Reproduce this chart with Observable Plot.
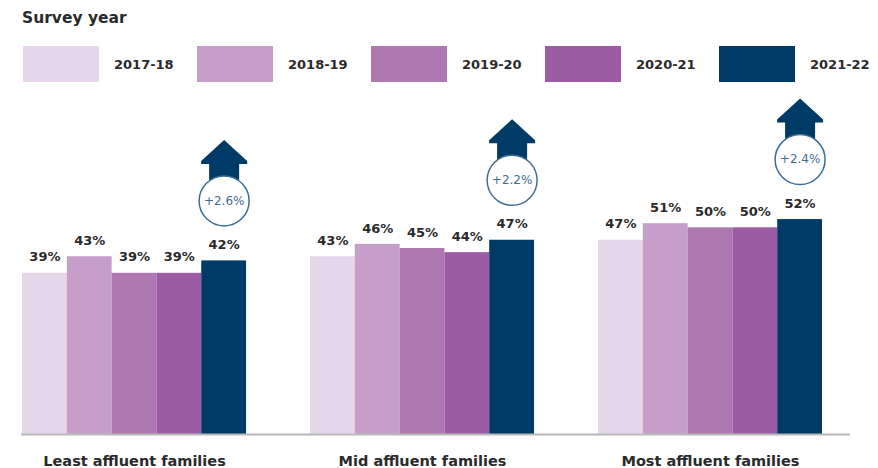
<!DOCTYPE html>
<html>
<head>
<meta charset="utf-8">
<script src="https://cdn.jsdelivr.net/npm/d3@7"></script>
<script src="https://cdn.jsdelivr.net/npm/@observablehq/plot@0.6"></script>
<style>
  html, body { margin: 0; padding: 0; background: #fff; }
  body { width: 878px; height: 468px; overflow: hidden; font-family: "DejaVu Sans", sans-serif; color: #2a2a2a; }
  #legend { position: relative; height: 90px; }
  #legend .title { position: absolute; left: 22px; top: 8px; font-size: 15.5px; font-weight: 700; line-height: 20px; }
  #legend .items { position: absolute; left: 23px; top: 46px; display: flex; }
  #legend .item { width: 174px; display: flex; align-items: center; height: 36px; }
  #legend .sw { width: 76px; height: 36px; margin-right: 15px; }
  #legend .lab { font-size: 13px; font-weight: 700; }
  #chart svg { display: block; }
</style>
</head>
<body>
<div id="legend"><div class="title">Survey year</div><div class="items"></div></div>
<div id="chart"></div>
<script>
const groups = ["Least affluent families", "Mid affluent families", "Most affluent families"];
const years = ["2017-18", "2018-19", "2019-20", "2020-21", "2021-22"];
const leastAffluent = [39, 43, 39, 39, 42];
const midAffluent = [43, 46, 45, 44, 47];
const mostAffluent = [47, 51, 50, 50, 52];
const changes = ["+2.6%", "+2.2%", "+2.4%"];
const colors = ["#e5d6ea", "#c59fca", "#ad77b0", "#9c5ba2", "#003a66"];

const series = [leastAffluent, midAffluent, mostAffluent];
const rows = [];
groups.forEach((g, i) => years.forEach((y, j) => rows.push({group: g, year: y, value: series[i][j]})));
const latest = groups.map((g, i) => ({group: g, year: years[years.length - 1], value: series[i][years.length - 1], change: changes[i]}));

// legend
const items = document.querySelector("#legend .items");
years.forEach((y, j) => {
  const it = document.createElement("div"); it.className = "item";
  const sw = document.createElement("div"); sw.className = "sw"; sw.style.background = colors[j];
  const lab = document.createElement("div"); lab.className = "lab"; lab.textContent = y;
  it.appendChild(sw); it.appendChild(lab); items.appendChild(it);
});

const arrowSymbol = {
  draw(ctx) {
    ctx.moveTo(0, -61);
    ctx.lineTo(23, -40);
    ctx.lineTo(23, -37);
    ctx.lineTo(15, -37);
    ctx.lineTo(15, -20);
    ctx.lineTo(-15, -20);
    ctx.lineTo(-15, -37);
    ctx.lineTo(-23, -37);
    ctx.lineTo(-23, -40);
    ctx.closePath();
  }
};

const chart = Plot.plot({
  width: 878,
  height: 378,
  marginLeft: 22,
  marginRight: 56,
  marginTop: 96,
  marginBottom: 34,
  style: {fontFamily: "DejaVu Sans", fontSize: "14.5px", fontWeight: 700, color: "#2a2a2a", background: "#fff"},
  fx: {domain: groups, paddingInner: 0.222, paddingOuter: 0, round: false, axis: "bottom", tickSize: 0, tickPadding: 21, label: null},
  x: {domain: years, padding: 0, round: false, axis: null},
  y: {domain: [0, 60], axis: null},
  color: {domain: years, range: colors},
  marks: [
    Plot.barY(rows, {fx: "group", x: "year", y: "value", fill: "year"}),
    Plot.ruleY(groups.slice(0, 2).map(g => ({group: g})), {fx: "group", y: 0, stroke: "#b8b8b8", strokeWidth: 2, insetLeft: -1, insetRight: -64}),
    Plot.ruleY(groups.slice(2).map(g => ({group: g})), {fx: "group", y: 0, stroke: "#b8b8b8", strokeWidth: 2, insetLeft: -1, insetRight: -28}),
    Plot.text(rows, {fx: "group", x: "year", y: "value", text: d => d.value + "%", dy: -16, lineAnchor: "middle", fontSize: 13, fontWeight: 700, fill: "#2a2a2a"}),
    Plot.dot(latest, {fx: "group", x: "year", y: "value", dy: -60, r: 10, symbol: arrowSymbol, fill: "#003a66", stroke: "none"}),
    Plot.dot(latest, {fx: "group", x: "year", y: "value", dy: -60, r: 25, fill: "#fff", stroke: "#3f6d92", strokeWidth: 1.5}),
    Plot.text(latest, {fx: "group", x: "year", y: "value", dy: -60, text: "change", fontFamily: "DejaVu Sans", fontSize: 12, fontWeight: 400, fill: "#3f6d92", lineAnchor: "middle"})
  ]
});
document.getElementById("chart").appendChild(chart);
</script>
</body>
</html>
